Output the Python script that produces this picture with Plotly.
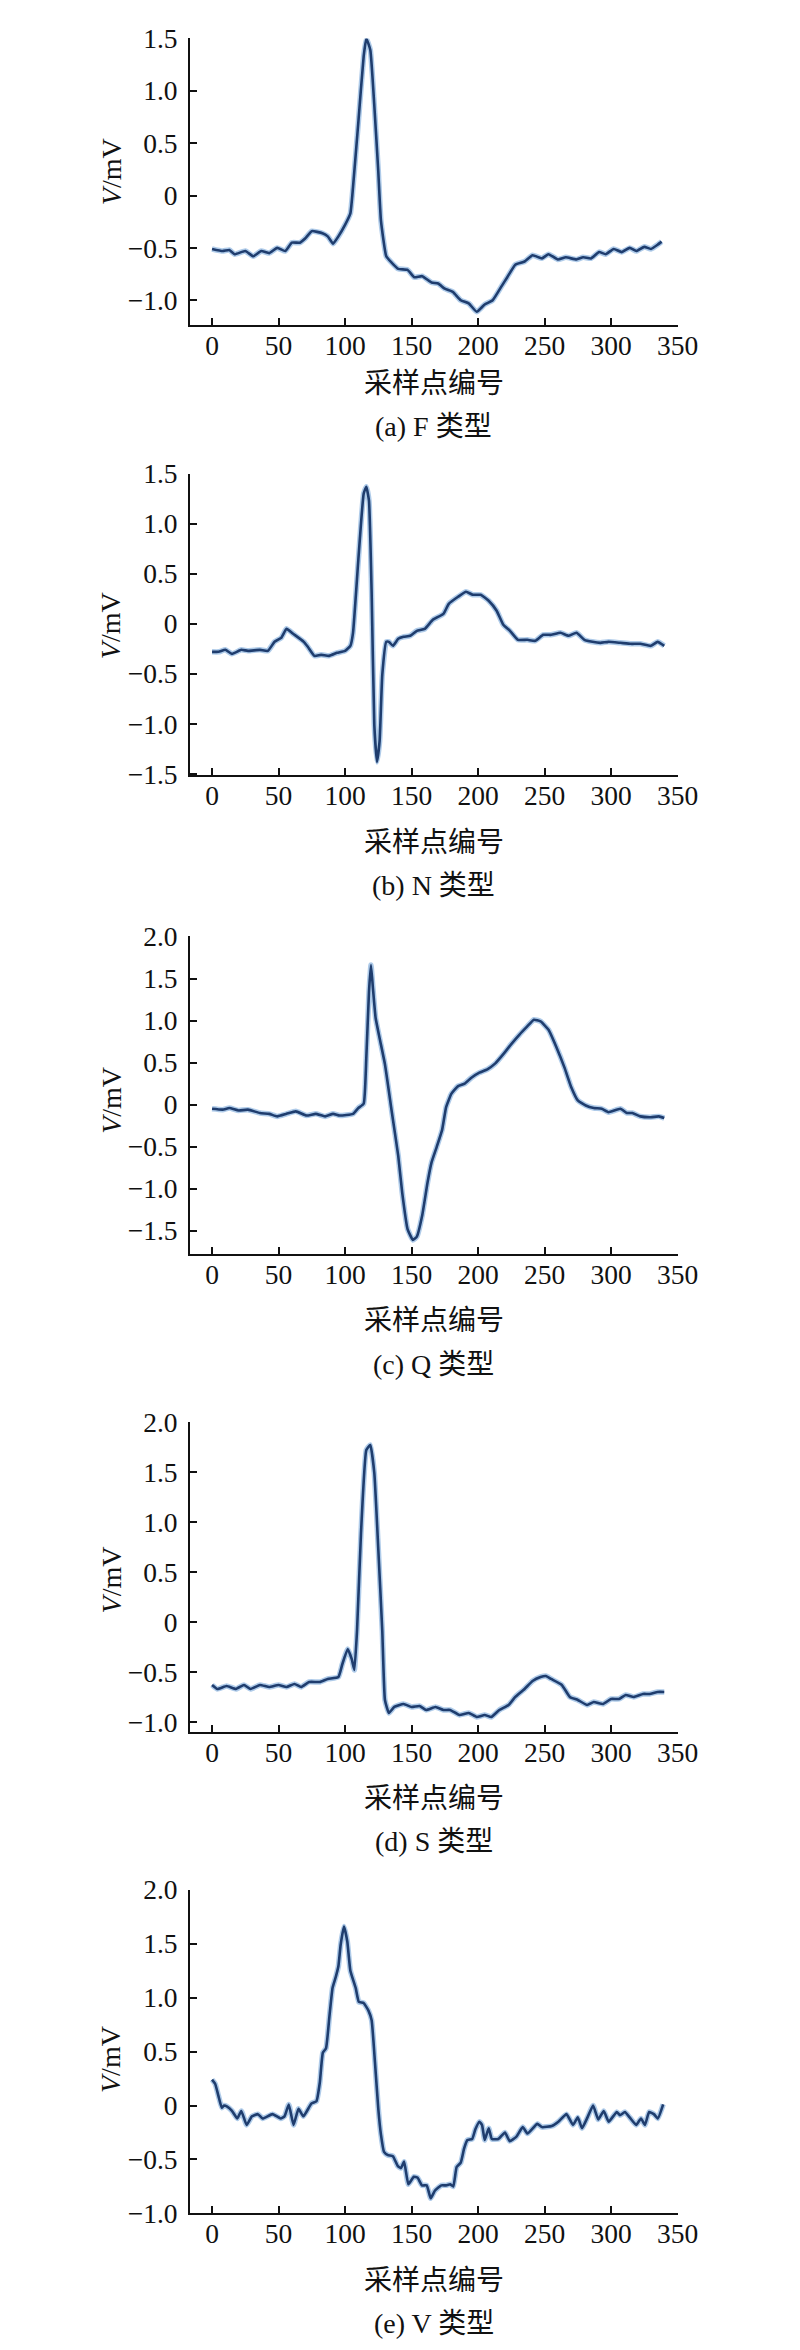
import plotly.graph_objects as go

# ---------------- data ----------------
x_a = [0, 8, 13, 17, 25, 31, 37, 43, 49, 55, 60, 66, 70, 75, 83, 87, 91, 95, 100, 104, 106, 110, 114, 116, 119, 122, 125, 127, 131, 135, 140, 147, 152, 158, 165, 170, 175, 181, 187, 193, 199, 205, 211, 218, 222, 228, 235, 241, 248, 253, 260, 266, 274, 279, 285, 291, 296, 302, 308, 314, 319, 325, 330, 335, 338]
v_a = [-0.51, -0.53, -0.52, -0.56, -0.53, -0.58, -0.53, -0.55, -0.50, -0.53, -0.45, -0.45, -0.41, -0.34, -0.36, -0.39, -0.46, -0.39, -0.28, -0.17, 0.08, 0.70, 1.33, 1.50, 1.39, 0.86, 0.23, -0.24, -0.58, -0.64, -0.70, -0.71, -0.78, -0.77, -0.83, -0.84, -0.89, -0.92, -1.00, -1.03, -1.11, -1.04, -1.00, -0.86, -0.78, -0.66, -0.63, -0.57, -0.60, -0.56, -0.61, -0.59, -0.61, -0.59, -0.60, -0.54, -0.56, -0.51, -0.54, -0.50, -0.53, -0.49, -0.51, -0.47, -0.44]

x_b = [0, 5, 10, 15, 22, 27, 36, 42, 47, 52, 56, 61, 69, 72, 77, 82, 88, 94, 100, 104, 106, 110, 114, 116, 118, 120, 122, 124, 126, 128, 131, 133, 136, 140, 144, 149, 154, 160, 166, 174, 178, 185, 191, 196, 202, 208, 214, 219, 224, 230, 237, 243, 249, 255, 262, 268, 274, 280, 286, 292, 298, 307, 315, 322, 330, 335, 340]
v_b = [-0.28, -0.28, -0.26, -0.30, -0.26, -0.27, -0.26, -0.27, -0.18, -0.14, -0.05, -0.10, -0.18, -0.23, -0.32, -0.31, -0.32, -0.29, -0.27, -0.22, -0.09, 0.64, 1.30, 1.37, 1.23, 0.31, -1.01, -1.38, -1.17, -0.51, -0.18, -0.18, -0.22, -0.15, -0.13, -0.12, -0.07, -0.05, 0.04, 0.10, 0.20, 0.27, 0.32, 0.29, 0.29, 0.23, 0.13, -0.01, -0.07, -0.16, -0.16, -0.17, -0.11, -0.11, -0.09, -0.12, -0.09, -0.16, -0.18, -0.19, -0.18, -0.19, -0.20, -0.20, -0.22, -0.18, -0.22]

x_c = [0, 8, 13, 20, 27, 36, 43, 49, 56, 63, 71, 78, 85, 91, 96, 106, 110, 114, 116, 118, 119.5, 121, 123, 126, 130, 135, 140, 143, 147, 151, 154, 158, 162, 165, 169, 173, 176, 180, 185, 190, 195, 201, 207, 213, 219, 225, 231, 237, 242, 247, 253, 259, 265, 270, 275, 281, 287, 293, 298, 307, 312, 316, 322, 330, 336, 340]
v_c = [-0.05, -0.06, -0.04, -0.07, -0.06, -0.10, -0.11, -0.14, -0.11, -0.08, -0.13, -0.11, -0.14, -0.11, -0.13, -0.11, -0.04, 0.01, 0.56, 1.34, 1.66, 1.38, 1.03, 0.79, 0.48, -0.07, -0.61, -1.05, -1.48, -1.61, -1.57, -1.32, -0.93, -0.69, -0.50, -0.30, -0.03, 0.13, 0.22, 0.25, 0.32, 0.38, 0.42, 0.49, 0.60, 0.72, 0.83, 0.93, 1.01, 0.99, 0.89, 0.68, 0.44, 0.21, 0.05, -0.01, -0.04, -0.05, -0.09, -0.05, -0.10, -0.10, -0.14, -0.15, -0.14, -0.16]

x_d = [0, 4, 11, 18, 24, 29, 36, 43, 50, 56, 62, 67, 73, 81, 87, 95, 98, 102, 105, 107, 109, 112, 116, 119, 122, 125, 128, 130, 133, 137, 144, 150, 156, 161, 168, 174, 179, 186, 193, 199, 205, 210, 216, 223, 228, 235, 241, 247, 251, 255, 263, 269, 275, 282, 287, 294, 300, 306, 311, 317, 324, 329, 335, 340]
v_d = [-0.63, -0.67, -0.64, -0.67, -0.63, -0.67, -0.63, -0.65, -0.63, -0.65, -0.62, -0.65, -0.60, -0.60, -0.57, -0.55, -0.42, -0.27, -0.37, -0.48, -0.09, 0.89, 1.72, 1.77, 1.49, 0.73, -0.09, -0.78, -0.91, -0.85, -0.82, -0.85, -0.84, -0.88, -0.85, -0.88, -0.88, -0.93, -0.91, -0.95, -0.93, -0.95, -0.88, -0.83, -0.75, -0.67, -0.59, -0.55, -0.54, -0.57, -0.63, -0.75, -0.78, -0.83, -0.80, -0.82, -0.77, -0.77, -0.73, -0.75, -0.72, -0.72, -0.70, -0.70]

x_e = [0, 2.4, 4.8, 7.3, 9, 11.4, 15, 19, 22, 26, 30, 34.5, 38, 45.5, 51.6, 54.5, 57.7, 61.3, 65, 68.7, 74.8, 78.5, 81, 83.3, 85.7, 88.2, 90.6, 93, 95, 96.7, 99.2, 101.7, 104, 108, 110.4, 114, 117.6, 120, 122.5, 125, 127, 129.3, 132.3, 136, 139.6, 142, 144.4, 147.6, 151.7, 154.6, 157.8, 161.4, 164.4, 167.5, 172.4, 176, 179, 181.4, 183.9, 187, 189.5, 192, 195.6, 198, 201, 203, 205, 208, 210.4, 215.3, 220.2, 223.8, 228.7, 233.6, 237.2, 244.5, 248, 255.5, 260.4, 266.5, 271.4, 275, 278.2, 282.3, 286.5, 290.4, 294.5, 298.2, 304.3, 306.7, 310.4, 314, 318.9, 322.5, 325.5, 328.6, 332.2, 335.2, 339.2]
v_e = [0.24, 0.20, 0.09, -0.02, 0.00, -0.01, -0.05, -0.12, -0.05, -0.18, -0.10, -0.08, -0.12, -0.08, -0.12, -0.10, 0.01, -0.18, -0.03, -0.10, 0.02, 0.04, 0.21, 0.49, 0.53, 0.82, 1.09, 1.19, 1.29, 1.49, 1.66, 1.52, 1.25, 1.09, 0.96, 0.95, 0.88, 0.79, 0.40, -0.03, -0.27, -0.43, -0.46, -0.47, -0.56, -0.58, -0.52, -0.73, -0.66, -0.67, -0.74, -0.74, -0.86, -0.79, -0.74, -0.74, -0.73, -0.75, -0.57, -0.53, -0.40, -0.32, -0.31, -0.22, -0.15, -0.18, -0.32, -0.21, -0.31, -0.31, -0.25, -0.33, -0.29, -0.20, -0.26, -0.17, -0.20, -0.19, -0.15, -0.08, -0.18, -0.11, -0.21, -0.11, 0.00, -0.13, -0.05, -0.15, -0.06, -0.09, -0.06, -0.11, -0.18, -0.12, -0.18, -0.06, -0.08, -0.12, 0.01]

x_ticks = [0, 50, 100, 150, 200, 250, 300, 350]
y_ticks_a = [-1.0, -0.5, 0, 0.5, 1.0, 1.5]
y_text_a = ["\u22121.0", "\u22120.5", "0", "0.5", "1.0", "1.5"]
y_ticks_b = [-1.5, -1.0, -0.5, 0, 0.5, 1.0, 1.5]
y_text_b = ["\u22121.5", "\u22121.0", "\u22120.5", "0", "0.5", "1.0", "1.5"]
y_ticks_c = [-1.5, -1.0, -0.5, 0, 0.5, 1.0, 1.5, 2.0]
y_text_c = ["\u22121.5", "\u22121.0", "\u22120.5", "0", "0.5", "1.0", "1.5", "2.0"]
y_ticks_d = [-1.0, -0.5, 0, 0.5, 1.0, 1.5, 2.0]
y_text_d = ["\u22121.0", "\u22120.5", "0", "0.5", "1.0", "1.5", "2.0"]
y_ticks_e = [-1.0, -0.5, 0, 0.5, 1.0, 1.5, 2.0]
y_text_e = ["\u22121.0", "\u22120.5", "0", "0.5", "1.0", "1.5", "2.0"]

x_title = "采样点编号"
y_title = "<i>V</i>/mV"
captions = ["(a) F 类型", "(b) N 类型", "(c) Q 类型", "(d) S 类型", "(e) V 类型"]

# ---------------- layout geometry (pixels in 800x2350 page) ----------------
W, H = 800, 2350
X0, X1 = 187, 687.6
panels = [
    # data x, data y, ticks, ticktext, y-range, top px, bottom px, title px, caption px, ytitle px
    (x_a, v_a, y_ticks_a, y_text_a, [-1.236, 1.5], 15.7, 306.0, 365, 409, 151),
    (x_b, v_b, y_ticks_b, y_text_b, [-1.513, 1.5], 456.7, 762.3, 830, 874, 611),
    (x_c, v_c, y_ticks_c, y_text_c, [-1.78, 2.0], 925.7, 1247.7, 1315, 1359, 1092),
    (x_d, v_d, y_ticks_d, y_text_d, [-1.099, 2.0], 1417.7, 1731.7, 1799, 1843, 1578),
    (x_e, v_e, y_ticks_e, y_text_e, [-1.0, 2.0], 1891.7, 2219.7, 2288, 2331, 2064),
]

FONT = "Liberation Serif, Times New Roman, Noto Sans CJK SC, serif"
CJK = "Liberation Serif, Noto Sans CJK SC, serif"
TICK_SIZE = 27.5
TEXT_SIZE = 28


def py(px):
    return 1 - px / H


fig = go.Figure()
layout = dict(
    width=W, height=H,
    margin=dict(l=0, r=0, t=0, b=0),
    paper_bgcolor="white", plot_bgcolor="white",
    showlegend=False,
    font=dict(family=FONT, size=TICK_SIZE, color="#111"),
)
annotations = []

for i, (xs, ys, tv, tt, yr, top, bot, tit, cap, yt) in enumerate(panels):
    n = "" if i == 0 else str(i + 1)
    xa, ya = "x" + n, "y" + n
    fig.add_trace(go.Scatter(x=xs, y=ys, mode="lines", xaxis=xa, yaxis=ya,
                             line=dict(color="rgba(110,160,215,0.55)", width=5.5,
                                       shape="spline", smoothing=0.4),
                             hoverinfo="skip"))
    fig.add_trace(go.Scatter(x=xs, y=ys, mode="lines", xaxis=xa, yaxis=ya,
                             line=dict(color="#1f3d6e", width=2.6,
                                       shape="spline", smoothing=0.4)))
    layout["xaxis" + n] = dict(
        domain=[X0 / W, X1 / W], range=[-16.5, 350], anchor=ya,
        tickvals=x_ticks, ticktext=[str(t) for t in x_ticks],
        showline=True, linecolor="#111", linewidth=2,
        ticks="inside", ticklen=7, tickwidth=1.6, tickcolor="#111",
        showgrid=False, zeroline=False, fixedrange=True,
        tickfont=dict(family=FONT, size=TICK_SIZE, color="#111"),
        ticklabelstandoff=-5,
    )
    layout["yaxis" + n] = dict(
        domain=[py(bot), py(top)], range=yr, anchor=xa,
        tickvals=tv, ticktext=tt,
        showline=True, linecolor="#111", linewidth=2,
        ticks="inside", ticklen=7, tickwidth=1.6, tickcolor="#111",
        showgrid=False, zeroline=False, fixedrange=True,
        tickfont=dict(family=FONT, size=TICK_SIZE, color="#111"),
        ticklabelstandoff=5,
    )
    annotations.append(dict(x=(X0 + X1) / 2 / W, y=py(tit), xref="paper", yref="paper",
                            text=x_title, showarrow=False, xanchor="center", yanchor="middle",
                            font=dict(family=CJK, size=TEXT_SIZE, color="#111")))
    annotations.append(dict(x=(X0 + X1) / 2 / W, y=py(cap), xref="paper", yref="paper",
                            text=captions[i], showarrow=False, xanchor="center", yanchor="middle",
                            font=dict(family=CJK, size=TEXT_SIZE, color="#111")))
    annotations.append(dict(x=106 / W, y=py(yt), xref="paper", yref="paper",
                            text=y_title, showarrow=False, textangle=-90,
                            xanchor="center", yanchor="middle",
                            font=dict(family=FONT, size=TEXT_SIZE, color="#111")))

layout["annotations"] = annotations
fig.update_layout(**layout)
fig.write_html("out.html")
